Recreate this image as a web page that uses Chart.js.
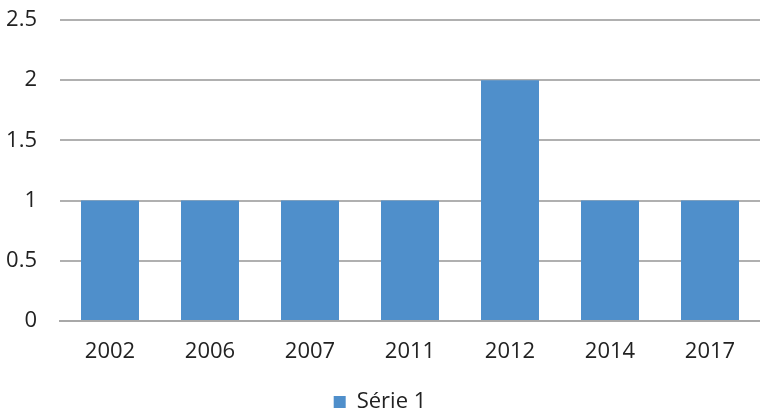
<!DOCTYPE html>
<html>
<head>
<meta charset="utf-8">
<script src="https://cdn.jsdelivr.net/npm/chart.js@4"></script>
<style>
  html,body{margin:0;padding:0;background:#fff;}
  #wrap{width:760px;height:413px;}
</style>
</head>
<body>
<div id="wrap"><canvas id="canvas"></canvas></div>
<script>
const years = ["2002","2006","2007","2011","2012","2014","2017"];
const serie1 = [1, 1, 1, 1, 2, 1, 1];
const seriesName = "Série 1";

const font = {family: "'Open Sans', sans-serif", size: 22};

// chart.js adds a fixed 10px under a horizontal legend, take it back
const legendTrim = {
    id: 'legendTrim',
    beforeLayout(chart) {
        const lg = chart.legend;
        if (lg && !lg._trimmed) {
            const fit = lg.fit.bind(lg);
            lg.fit = function () { fit(); this.height -= 10; };
            lg._trimmed = true;
        }
    }
};

new Chart(document.getElementById("canvas").getContext("2d"), {
    type: 'bar',
    data: {
        labels: years,
        datasets: [{
            label: seriesName,
            data: serie1,
            backgroundColor: '#4f8fcb',
            barPercentage: 0.58,
            categoryPercentage: 1
        }]
    },
    plugins: [legendTrim],
    options: {
        responsive: true,
        maintainAspectRatio: false,
        animation: false,
        layout: {padding: 0},
        plugins: {
            legend: {
                position: 'bottom',
                labels: {
                    font: font,
                    color: '#222',
                    boxWidth: 12,
                    boxHeight: 12,
                    padding: 0
                }
            },
            tooltip: {enabled: false}
        },
        scales: {
            x: {
                afterFit: (axis) => { axis.height = 70; },
                grid: {display: false},
                border: {color: '#a8a8a8', width: 2},
                ticks: {font: font, color: '#222', padding: 10}
            },
            y: {
                min: 0,
                max: 2.5,
                afterFit: (axis) => { axis.width = 60; axis.paddingTop = 20; },
                grid: {color: '#b0b0b0', lineWidth: 2, drawTicks: false},
                border: {display: false},
                ticks: {stepSize: 0.5, font: font, color: '#222', padding: 23,
                        callback: (v) => String(v)}
            }
        }
    }
});
</script>
</body>
</html>
